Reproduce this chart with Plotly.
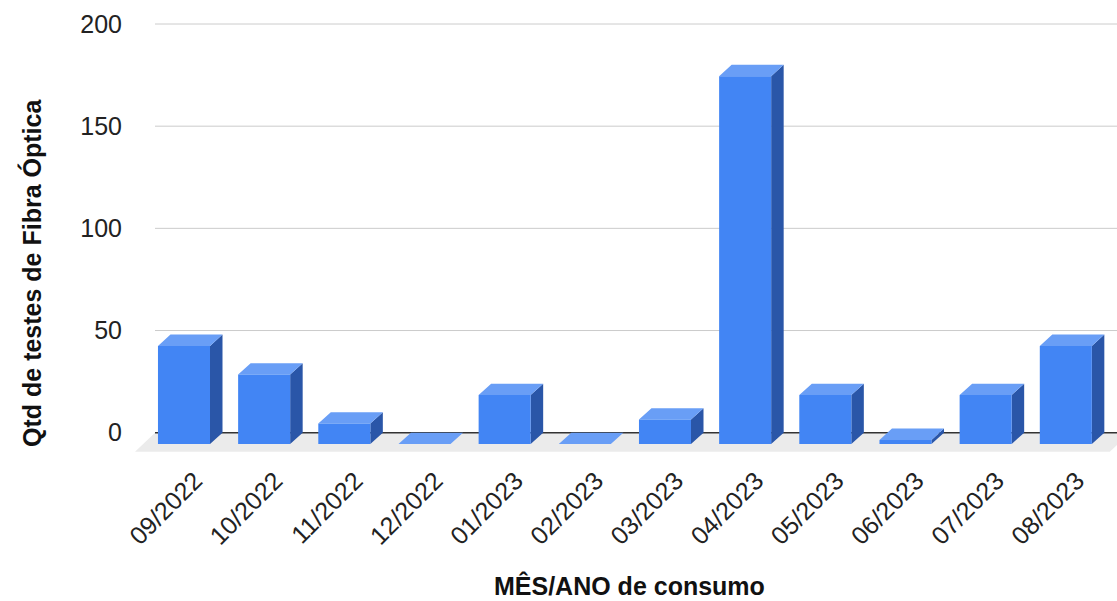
import plotly.graph_objects as go

# ---- data ----
categories = ["09/2022", "10/2022", "11/2022", "12/2022", "01/2023", "02/2023",
              "03/2023", "04/2023", "05/2023", "06/2023", "07/2023", "08/2023"]
values = [48, 34, 10, 0, 24, 0, 12, 180, 24, 2, 24, 48]
y_ticks = [0, 50, 100, 150, 200]

# ---- style / geometry (in axis units) ----
FRONT_OFF = 0.037   # gap from category start to bar front-left
FRONT_W = 0.649     # width of the front face
DX = 0.156          # depth shift to the right
DY = 5.53           # depth shift upwards
FLOOR_DX = 0.25
FLOOR_DY = 9.35

C_FRONT = "#4285F4"
C_TOP = "#699EF6"
C_SIDE = "#2A56A8"
C_FLOOR = "#EBEBEB"
FONT = "Liberation Sans, Arial, sans-serif"
TICK_SIZE = 25
TITLE_SIZE = 25

fig = go.Figure()

# floor
n = len(categories)
fx0, fx1 = -0.5, n - 0.5 + 0.16
fig.add_trace(go.Scatter(
    x=[fx0 - FLOOR_DX, fx1 - FLOOR_DX, fx1, fx0, fx0 - FLOOR_DX],
    y=[-FLOOR_DY, -FLOOR_DY, 0, 0, -FLOOR_DY],
    fill="toself", fillcolor=C_FLOOR, mode="none", hoverinfo="skip", showlegend=False))

# gridlines (back plane)
for t in y_ticks:
    fig.add_trace(go.Scatter(
        x=[-0.5, n - 0.5], y=[t, t], mode="lines",
        line=dict(color="#333333" if t == 0 else "#CCCCCC", width=1.5 if t == 0 else 1),
        hoverinfo="skip", showlegend=False))

# bars
fx, fy, tx, ty, sx, sy = [], [], [], [], [], []
for i, v in enumerate(values):
    x0 = i - 0.5 + FRONT_OFF
    x1 = x0 + FRONT_W
    b = -DY
    top = v - DY
    fx += [x0, x1, x1, x0, x0, None]
    fy += [b, b, top, top, b, None]
    tx += [x0, x1, x1 + DX, x0 + DX, x0, None]
    ty += [top, top, v, v, top, None]
    if v > 0:
        sx += [x1, x1 + DX, x1 + DX, x1, x1, None]
        sy += [b, 0, v, top, b, None]

fig.add_trace(go.Scatter(x=sx, y=sy, fill="toself", fillcolor=C_SIDE, mode="none",
                         hoverinfo="skip", showlegend=False))
fig.add_trace(go.Scatter(x=tx, y=ty, fill="toself", fillcolor=C_TOP, mode="none",
                         hoverinfo="skip", showlegend=False))
fig.add_trace(go.Scatter(x=fx, y=fy, fill="toself", fillcolor=C_FRONT, mode="none",
                         hoverinfo="skip", showlegend=False))

fig.update_layout(
    width=1117, height=601,
    margin=dict(l=135, r=0, t=10, b=149),
    paper_bgcolor="white", plot_bgcolor="white",
    font=dict(family=FONT, size=TICK_SIZE, color="#222222"),
    showlegend=False,
    xaxis=dict(
        range=[-0.5 - 0.2495, n - 0.5],
        tickmode="array", tickvals=list(range(n)), ticktext=categories,
        tickangle=-45, showgrid=False, zeroline=False, showline=False,
        ticks="", ticklabelstandoff=8,
        tickfont=dict(family=FONT, size=TICK_SIZE, color="#222222"),
        fixedrange=True,
    ),
    yaxis=dict(
        range=[-9.44, 206.85],
        tickmode="array", tickvals=y_ticks,
        showgrid=False, zeroline=False, showline=False, ticks="",
        ticklabelstandoff=12,
        tickfont=dict(family=FONT, size=TICK_SIZE, color="#222222"),
        fixedrange=True,
    ),
    annotations=[
        dict(text="<b>Qtd de testes de Fibra Óptica</b>", textangle=-90,
             xref="paper", yref="paper", x=-0.1049, y=0.405,
             xanchor="center", yanchor="middle", showarrow=False,
             font=dict(family=FONT, size=TITLE_SIZE, color="#111111")),
        dict(text="<b>MÊS/ANO de consumo</b>",
             xref="paper", yref="paper", x=0.504, y=-0.301,
             xanchor="center", yanchor="middle", showarrow=False,
             font=dict(family=FONT, size=TITLE_SIZE, color="#111111")),
    ],
)

fig.write_html("out.html")
